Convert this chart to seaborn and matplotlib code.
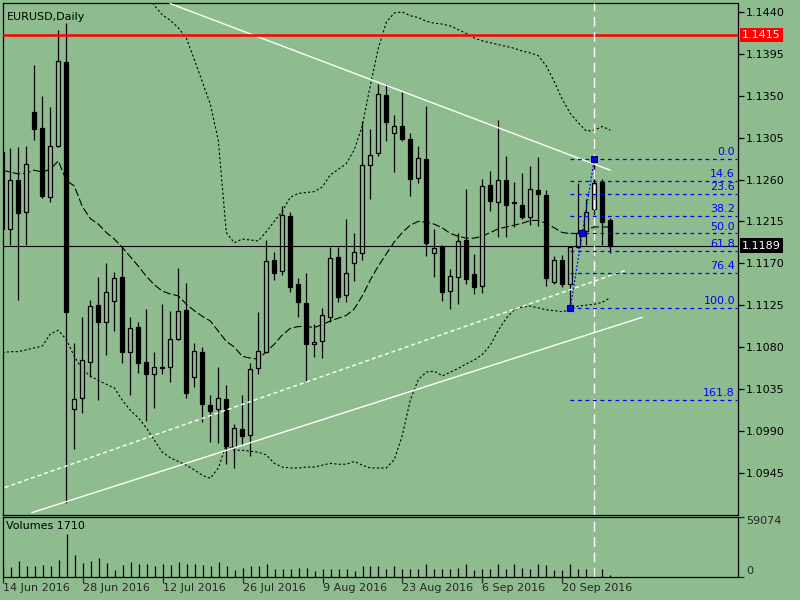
import numpy as np
import pandas as pd
import matplotlib
matplotlib.use("Agg")
import matplotlib.pyplot as plt
import matplotlib.transforms as mtransforms
import seaborn as sns

# ---------------- data ----------------
opens = [1.1290,1.1207,1.1259,1.1225,1.1333,1.1315,1.1241,1.1296,1.1386,1.1013,
         1.1025,1.1064,1.1125,1.1107,1.1129,1.1155,1.1075,1.1101,1.1064,1.1051,
         1.1059,1.1059,1.1089,1.1120,1.1048,1.1075,1.1018,1.1013,1.1024,1.0973,
         1.0992,1.0985,1.1057,1.1075,1.1173,1.1162,1.1221,1.1148,1.1127,1.1083,
         1.1086,1.1112,1.1177,1.1136,1.1170,1.1181,1.1276,1.1288,1.1351,1.1310,
         1.1317,1.1303,1.1262,1.1282,1.1181,1.1189,1.1140,1.1155,1.1195,1.1158,
         1.1146,1.1254,1.1236,1.1259,1.1236,1.1233,1.1220,1.1249,1.1243,1.1150,
         1.1174,1.1148,1.1187,1.1205,1.1228,1.1257,1.1216]
highs = [1.1294,1.1294,1.1295,1.1296,1.1383,1.1350,1.1338,1.1421,1.1428,1.1084,
         1.1112,1.1130,1.1155,1.1170,1.1161,1.1187,1.1112,1.1107,1.1121,1.1075,
         1.1126,1.1119,1.1165,1.1149,1.1084,1.1080,1.1028,1.1059,1.1039,1.0997,
         1.1028,1.1063,1.1118,1.1195,1.1182,1.1231,1.1225,1.1154,1.1159,1.1105,
         1.1122,1.1188,1.1188,1.1218,1.1202,1.1323,1.1314,1.1363,1.1363,1.1329,
         1.1354,1.1310,1.1296,1.1339,1.1207,1.1190,1.1164,1.1202,1.1250,1.1180,
         1.1261,1.1269,1.1324,1.1285,1.1257,1.1267,1.1274,1.1284,1.1249,1.1178,
         1.1179,1.1188,1.1256,1.1239,1.1282,1.1261,1.1219]
lows = [1.1200,1.1190,1.1130,1.1190,1.1302,1.1240,1.1236,1.1295,1.0912,1.0970,
        1.1009,1.1048,1.1023,1.1071,1.1097,1.1063,1.1028,1.1052,1.1000,1.1014,
        1.1051,1.1042,1.1087,1.1025,1.1037,1.0999,1.0978,1.0977,1.0954,1.0950,
        1.0975,1.0963,1.1051,1.1074,1.1152,1.1157,1.1139,1.1112,1.1043,1.1069,
        1.1068,1.1107,1.1128,1.1128,1.1151,1.1174,1.1239,1.1285,1.1301,1.1268,
        1.1301,1.1242,1.1256,1.1178,1.1155,1.1129,1.1121,1.1126,1.1148,1.1137,
        1.1138,1.1226,1.1198,1.1198,1.1209,1.1218,1.1211,1.1210,1.1146,1.1148,
        1.1144,1.1122,1.1186,1.1190,1.1216,1.1190,1.1181]
closes = [1.1207,1.1260,1.1224,1.1277,1.1314,1.1242,1.1296,1.1387,1.1118,1.1024,
          1.1066,1.1124,1.1107,1.1139,1.1154,1.1075,1.1100,1.1063,1.1051,1.1058,
          1.1057,1.1089,1.1119,1.1031,1.1076,1.1019,1.1011,1.1025,1.0974,1.0993,
          1.0984,1.1056,1.1076,1.1172,1.1159,1.1222,1.1145,1.1128,1.1083,1.1085,
          1.1114,1.1176,1.1134,1.1159,1.1182,1.1276,1.1286,1.1352,1.1322,1.1318,
          1.1303,1.1261,1.1283,1.1192,1.1186,1.1139,1.1156,1.1194,1.1153,1.1144,
          1.1253,1.1237,1.1260,1.1233,1.1235,1.1220,1.1250,1.1244,1.1154,1.1173,
          1.1148,1.1187,1.1202,1.1225,1.1256,1.1214,1.1189]
volumes = [10000,9300,15000,10300,10000,11000,10000,16000,42000,21000,
           13300,15000,18700,13300,6700,11000,14000,12700,12700,10000,
           12000,11000,14000,12700,12000,11000,10700,14000,10000,6700,
           8700,10000,10000,12000,7300,7700,7700,8700,8700,5300,
           7300,7700,7700,7700,5300,10000,10000,10000,7700,10000,
           7700,7700,7700,12700,7700,7700,7700,8700,12000,6000,
           7700,7700,12000,7700,12000,8700,7700,12000,11000,6000,
           6700,12000,7700,7700,6700,7700,1710]
bb_mid = [1.1270,1.1268,1.1266,1.1267,1.1270,1.1268,1.1271,1.1280,1.1259,1.1253,
          1.1231,1.1218,1.1212,1.1203,1.1196,1.1187,1.1177,1.1167,1.1156,1.1147,
          1.1140,1.1137,1.1135,1.1126,1.1119,1.1113,1.1108,1.1097,1.1086,1.1080,
          1.1070,1.1068,1.1067,1.1075,1.1083,1.1093,1.1100,1.1102,1.1102,1.1101,
          1.1104,1.1108,1.1111,1.1114,1.1121,1.1135,1.1152,1.1167,1.1180,1.1193,
          1.1203,1.1211,1.1215,1.1214,1.1212,1.1208,1.1202,1.1199,1.1197,1.1197,
          1.1199,1.1203,1.1207,1.1209,1.1211,1.1213,1.1216,1.1216,1.1213,1.1208,
          1.1203,1.1202,1.1202,1.1206,1.1209,1.1209,1.1209]
bb_upper_start = 18
bb_upper = [1.1461,1.1447,1.1437,1.1431,1.1423,1.1412,1.1389,1.1365,1.1341,1.1302,
            1.1203,1.1192,1.1196,1.1195,1.1194,1.1204,1.1215,1.1226,1.1241,1.1245,
            1.1246,1.1247,1.1252,1.1265,1.1271,1.1277,1.1292,1.1318,1.1361,1.1401,
            1.1429,1.1439,1.1440,1.1436,1.1434,1.1430,1.1428,1.1427,1.1425,1.1421,
            1.1417,1.1412,1.1409,1.1407,1.1405,1.1403,1.1401,1.1398,1.1396,1.1393,
            1.1382,1.1365,1.1346,1.1331,1.1321,1.1312,1.1313,1.1317,1.1313]
bb_lower = [1.1074,1.1075,1.1075,1.1077,1.1079,1.1081,1.1094,1.1098,1.1088,1.1070,
            1.1056,1.1049,1.1044,1.1040,1.1036,1.1023,1.1012,1.1004,1.0993,1.0980,
            1.0967,1.0961,1.0957,1.0953,1.0948,1.0942,1.0939,1.0950,1.0975,1.0969,
            1.0969,1.0968,1.0967,1.0964,1.0955,1.0951,1.0950,1.0950,1.0951,1.0951,
            1.0953,1.0955,1.0954,1.0954,1.0957,1.0953,1.0950,1.0950,1.0950,1.0959,
            1.0985,1.1023,1.1045,1.1053,1.1054,1.1049,1.1053,1.1057,1.1062,1.1066,
            1.1072,1.1082,1.1098,1.1111,1.1120,1.1123,1.1124,1.1122,1.1120,1.1119,
            1.1118,1.1120,1.1124,1.1125,1.1126,1.1128,1.1133]

date_labels = ["14 Jun 2016", "28 Jun 2016", "12 Jul 2016", "26 Jul 2016",
               "9 Aug 2016", "23 Aug 2016", "6 Sep 2016", "20 Sep 2016"]
date_label_bars = [0, 10, 20, 30, 40, 50, 60, 70]
price_ticks = [1.1440, 1.1395, 1.1350, 1.1305, 1.1260, 1.1215, 1.1170,
               1.1125, 1.1080, 1.1035, 1.0990, 1.0945]
fib_levels = [0.0, 14.6, 23.6, 38.2, 50.0, 61.8, 76.4, 100.0, 161.8]
fib_low_bar, fib_low = 71, 1.1122
fib_high_bar, fib_high = 74, 1.1282
resistance = 1.1415
vline_bar = 74
trend_down_x, trend_down_y = [21, 76], [1.1449, 1.1270]
trend_up_x, trend_up_y = [3.7, 80], [1.0902, 1.1112]
channel_x, channel_y = [0.3, 78.1], [1.0929, 1.1163]
volume_max = 59074

# ---------------- style ----------------
BG = "#8FBC8F"
sns.set_style("ticks", rc={"axes.facecolor": BG, "figure.facecolor": BG,
                           "axes.edgecolor": "black", "axes.linewidth": 0.9})
plt.rcParams['font.family'] = ['DejaVu Sans']
plt.rcParams['font.size'] = 8

fig = plt.figure(figsize=(8, 6), dpi=100)
L, R = 2.7, 737.5
ax = fig.add_axes([L / 800, 1 - 514.5 / 600, (R - L) / 800, (514.5 - 2.7) / 600])
axv = fig.add_axes([L / 800, 1 - 576.5 / 600, (R - L) / 800, 60 / 600])

idx = np.arange(len(opens))
o = np.array(opens); c = np.array(closes); h = np.array(highs); lo = np.array(lows)
XL = (0.05, 91.9)

# Bollinger bands
sns.lineplot(x=idx, y=bb_mid, ax=ax, color="black", lw=0.8,
             linestyle=(0, (7, 2.5)), estimator=None, sort=False, zorder=2)
sns.lineplot(x=idx[bb_upper_start:], y=bb_upper, ax=ax, color="black", lw=0.8,
             linestyle=(0, (2, 2)), estimator=None, sort=False, zorder=2)
sns.lineplot(x=idx, y=bb_lower, ax=ax, color="black", lw=0.8,
             linestyle=(0, (2, 2)), estimator=None, sort=False, zorder=2)

# candles
up = c >= o
ax.vlines(idx, lo, h, color="black", lw=0.9, zorder=3)
body_b = np.minimum(o, c)
body_h = np.maximum(np.abs(c - o), 0.00003)
ax.bar(idx, body_h, bottom=body_b, width=0.5,
       color=[BG if u else "black" for u in up], edgecolor="black",
       linewidth=0.9, zorder=4)

# trend lines
ax.plot(trend_down_x, trend_down_y, color="white", lw=1.0, zorder=5)
ax.plot(trend_up_x, trend_up_y, color="white", lw=1.0, zorder=5)
ax.plot(channel_x, channel_y, color="white", lw=1.0, ls=(0, (3, 2)), zorder=5)

# resistance & current price
ax.axhline(resistance, color="#FF0000", lw=1.8, zorder=5)
last = closes[-1]
ax.axhline(last, color="black", lw=0.8, zorder=5)

# vertical dashed marker
for a in (ax, axv):
    a.axvline(vline_bar, color="white", lw=1.0, ls=(0, (7, 4)), zorder=6)

# fibonacci
rng = fib_high - fib_low
fib_prices = [fib_high - lv / 100 * rng for lv in fib_levels]
ax.hlines(fib_prices, fib_low_bar, XL[1], colors="#0000FF", lw=0.9,
          linestyles=(0, (3, 3)), zorder=6)
ax.plot([fib_low_bar, fib_high_bar], [fib_low, fib_high], color="#0000FF",
        lw=0.9, ls=(0, (1.5, 1.5)), zorder=6)
ax.plot([fib_low_bar, (fib_low_bar + fib_high_bar) / 2, fib_high_bar],
        [fib_low, (fib_low + fib_high) / 2, fib_high], ls="none", marker="s",
        ms=4, mfc="#0000FF", mec="#000066", mew=0.8, zorder=7)
tr = mtransforms.blended_transform_factory(ax.transAxes, ax.transData)
for lv, p in zip(fib_levels, fib_prices):
    ax.text(0.9966, p + 0.0002, f"{lv:.1f}", transform=tr, ha="right",
            va="bottom", color="#0000FF", fontsize=8, zorder=8)

# axes config main
ax.set_xlim(*XL)
ax.set_ylim(1.0900, 1.1450)
ax.set_xticks([])
ax.yaxis.tick_right()
ax.set_yticks(price_ticks)
ax.set_yticklabels([f"{p:.4f}" for p in price_ticks])
ax.tick_params(axis="y", direction="out", length=4, width=0.9, pad=2,
               labelsize=8, colors="black")
ax.set_xlabel(""); ax.set_ylabel("")
for s in ax.spines.values():
    s.set_visible(True); s.set_color("black"); s.set_linewidth(0.9)

# price tag boxes on the axis
for val, fc in ((resistance, "#FF0000"), (last, "black")):
    ax.text(1.0065, val, f"{val:.4f}", transform=tr, ha="left", va="center",
            color="white", fontsize=8, clip_on=False, zorder=10,
            bbox=dict(facecolor=fc, edgecolor="none", boxstyle="square,pad=0.2"))

ax.text(0.006, 0.982, "EURUSD,Daily", transform=ax.transAxes, ha="left",
        va="top", fontsize=8, color="black")

# volume panel
axv.vlines(idx, 0, volumes, color="black", lw=0.9)
axv.set_xlim(*XL)
axv.set_ylim(0, volume_max)
axv.yaxis.tick_right()
axv.set_yticks([0, volume_max])
labs = axv.set_yticklabels(["0", str(volume_max)])
labs[0].set_va("bottom"); labs[1].set_va("top")
axv.tick_params(axis="y", direction="out", length=4, width=0.9, pad=2, labelsize=8)
axv.set_xticks(date_label_bars)
xl = axv.set_xticklabels(date_labels)
for t in xl:
    t.set_ha("left")
axv.tick_params(axis="x", direction="out", length=4, width=0.9, pad=1, labelsize=8)
for s in axv.spines.values():
    s.set_visible(True); s.set_color("black"); s.set_linewidth(0.9)
axv.text(0.004, 0.92, f"Volumes {volumes[-1]}", transform=axv.transAxes,
         ha="left", va="top", fontsize=8, color="black")

fig.savefig("out.png", dpi=100, facecolor=BG)
